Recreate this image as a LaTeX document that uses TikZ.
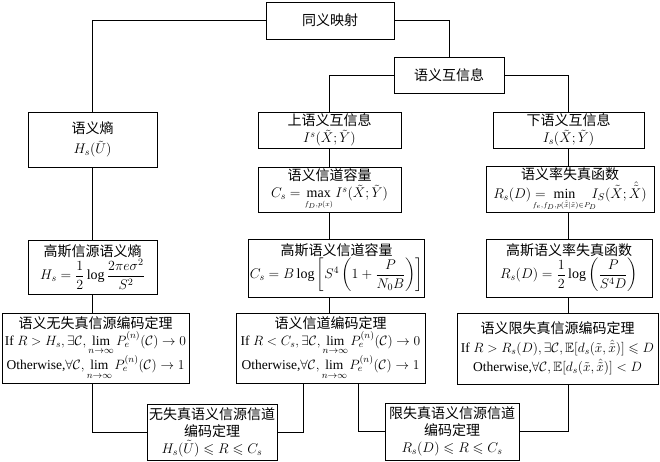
\RequirePackage{fix-cm}
\documentclass[tikz,border=0pt]{standalone}
\usepackage{amsmath}
\usepackage{amssymb}
\usepackage{mathtools}
\usepackage{fontspec}
\setmainfont{Liberation Serif}
\newfontfamily\cjk{Noto Sans CJK SC}
\newcommand{\zh}[1]{{\cjk #1}}
\newcommand{\thmline}{\fontsize{13.5}{17}\selectfont}

\begin{document}
\begin{tikzpicture}[x=1pt,y=-1pt,line width=0.9pt,
	tbox/.style={draw,align=center,inner sep=1pt,font=\fontsize{14}{17}\selectfont}]
	\useasboundingbox (0,0) rectangle (660,462);
	\node[tbox, minimum width=128, minimum height=37] (map) at (330,20.5) {\zh{同义映射}};
	\node[tbox, minimum width=110, minimum height=36] (mi) at (449,75) {\zh{语义互信息}};
	\node[tbox, minimum width=129, minimum height=55] (ent) at (92.5,139.5) {\zh{语义熵}\\[3pt] $H_s(\tilde{U})$};
	\node[tbox, minimum width=143, minimum height=36] (upmi) at (329.5,130) {\zh{上语义互信息}\\ $I^s(\tilde{X};\tilde{Y})$};
	\node[tbox, minimum width=151, minimum height=36] (lowmi) at (568.5,130) {\zh{下语义互信息}\\ $I_s(\tilde{X};\tilde{Y})$};
	\node[tbox, minimum width=143, minimum height=45] (cap) at (329.5,189.5) {\zh{语义信道容量}\\ $C_s=\max\limits_{\scriptscriptstyle f_D,p(x)} I^s(\tilde{X};\tilde{Y})$};
	\node[tbox, minimum width=168, minimum height=45] (rd) at (570,189.5) {\zh{语义率失真函数}\\ $R_s(D)=\;\min\limits_{\mathclap{\scriptscriptstyle f_e,f_D,p(\hat{\tilde{x}}|\tilde{x})\in P_D}}\quad I_S(\tilde{X};\hat{\tilde{X}})$};
	\node[tbox, minimum width=129, minimum height=54] (gent) at (92.5,267) {\zh{高斯信源语义熵}\\ $H_s=\dfrac{1}{2}\log\dfrac{2\pi e\sigma^2}{S^2}$};
	\node[tbox, minimum width=159, minimum height=58] (gcap) at (336.5,268) {\zh{高斯语义信道容量}\\ $C_s=B\log\left[S^4\left(1+\dfrac{P}{N_0B}\right)\right]$};
	\node[tbox, minimum width=166, minimum height=58] (grd) at (569,268) {\zh{高斯语义率失真函数}\\ $R_s(D)=\dfrac{1}{2}\log\left(\dfrac{P}{S^4D}\right)$};
	\node[tbox, minimum width=187, minimum height=70] (lossless) at (95.5,348) {\zh{语义无失真信源编码定理}\\ {\thmline If $R>H_s,\exists\mathcal{C},\lim\limits_{n\to\infty}P_e^{(n)}(\mathcal{C})\to 0$}\\ {\thmline Otherwise,$\forall\mathcal{C},\lim\limits_{n\to\infty}P_e^{(n)}(\mathcal{C})\to 1$}};
	\node[tbox, minimum width=189, minimum height=70] (chcode) at (330.5,348) {\zh{语义信道编码定理}\\ {\thmline If $R<C_s,\exists\mathcal{C},\lim\limits_{n\to\infty}P_e^{(n)}(\mathcal{C})\to 0$}\\ {\thmline Otherwise,$\forall\mathcal{C},\lim\limits_{n\to\infty}P_e^{(n)}(\mathcal{C})\to 1$}};
	\node[tbox, minimum width=201, minimum height=71] (lossy) at (557.5,348.5) {\zh{语义限失真信源编码定理}\\[2pt] {\thmline If $R>R_s(D),\exists\mathcal{C},\mathbb{E}[d_s(\tilde{x},\hat{\tilde{x}})]\leqslant D$}\\[2pt] {\thmline Otherwise,$\forall\mathcal{C},\mathbb{E}[d_s(\tilde{x},\hat{\tilde{x}})]<D$}};
	\node[tbox, minimum width=130, minimum height=56] (jscc1) at (212,432) {\zh{无失真语义信源信道}\\ \zh{编码定理}\\ $H_s(\tilde{U})\leqslant R\leqslant C_s$};
	\node[tbox, minimum width=134, minimum height=57] (jscc2) at (452,431.5) {\zh{限失真语义信源信道}\\ \zh{编码定理}\\ $R_s(D)\leqslant R\leqslant C_s$};

	\draw (map.west) -| (ent.north);
	\draw (map.east) -| (mi.north);
	\draw (mi.west) -| (upmi.north);
	\draw (mi.east) -| (lowmi.north);
	% left column
	\draw (ent.south) -- (gent.north);
	\draw (gent.south) -- (gent.south |- lossless.north);
	% middle column
	\draw (upmi.south) -- (cap.north);
	\draw (cap.south) -- (cap.south |- gcap.north);
	\draw (cap.south |- gcap.south) -- (cap.south |- chcode.north);
	% right column
	\draw (lowmi.south) -- (lowmi.south |- rd.north);
	\draw (lowmi.south |- rd.south) -- (lowmi.south |- grd.north);
	\draw (lowmi.south |- grd.south) -- (lowmi.south |- lossy.north);
	% to the joint theorems
	\draw (gent.south |- lossless.south) |- (jscc1.west);
	\draw ([xshift=-27.5pt]chcode.south) |- (jscc1.east);
	\draw ([xshift=27.5pt]chcode.south) |- (jscc2.west);
	\draw (lowmi.south |- lossy.south) |- (jscc2.east);
\end{tikzpicture}
\end{document}
